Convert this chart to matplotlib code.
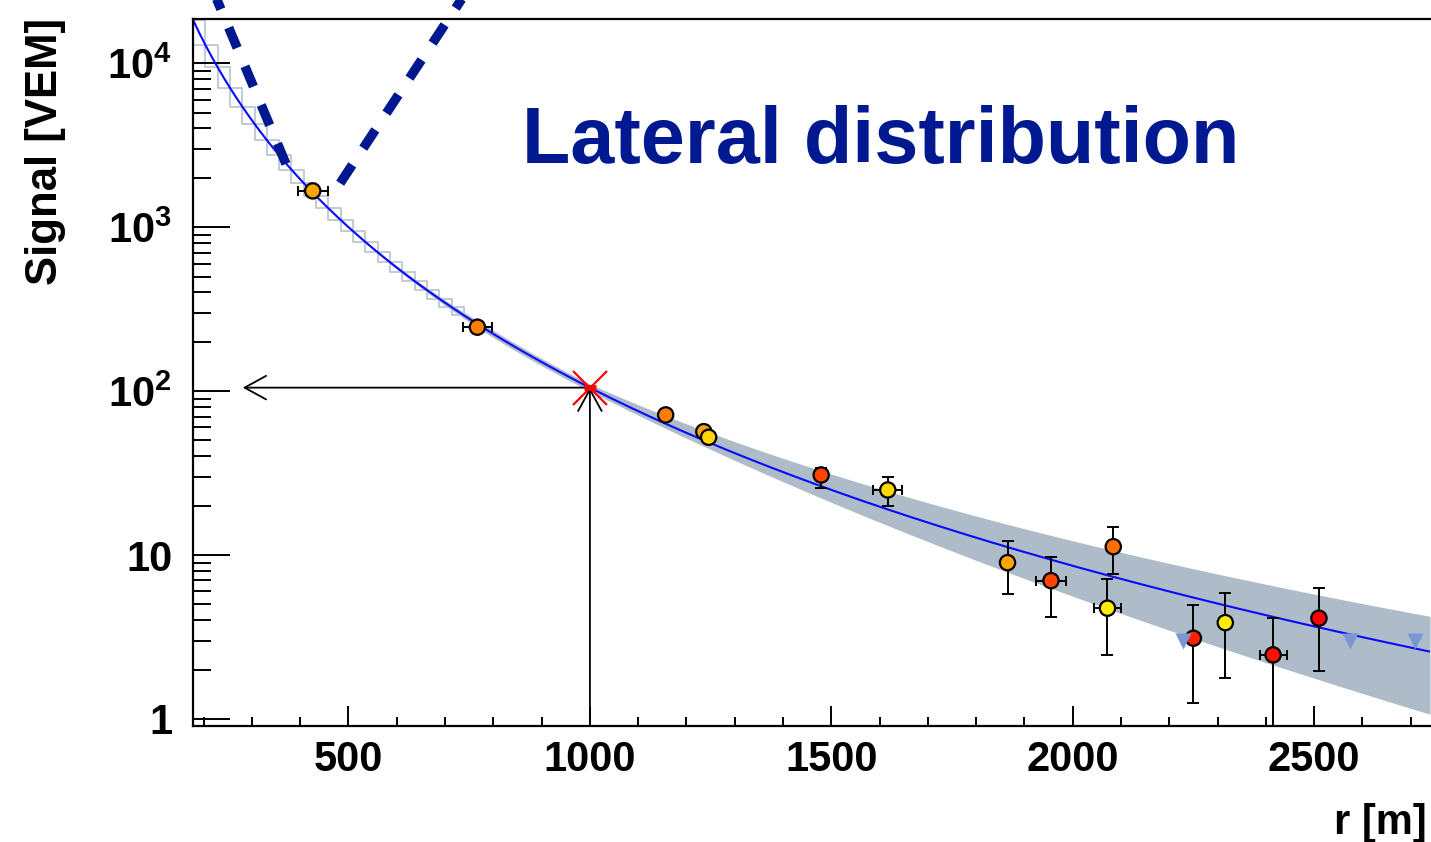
import numpy as np
import matplotlib
matplotlib.use("Agg")
import matplotlib.pyplot as plt
from matplotlib.ticker import FixedLocator, MultipleLocator, NullFormatter

plt.rcParams["font.family"] = ["Liberation Sans", "DejaVu Sans"]
plt.rcParams["font.weight"] = "bold"
plt.rcParams["mathtext.fontset"] = "custom"
plt.rcParams["mathtext.rm"] = "Liberation Sans:bold"
plt.rcParams["mathtext.it"] = "Liberation Sans:bold"
plt.rcParams["mathtext.bf"] = "Liberation Sans:bold"
plt.rcParams["lines.scale_dashes"] = False

# ---- station signals -------------------------------------------------------
r_station = [426, 767, 1157, 1236, 1246, 1479, 1617, 1865, 1955, 2084, 2072,
             2250, 2316, 2415, 2510]
S_station = [1665, 245.5, 71.6, 56.6, 52.3, 30.8, 24.95, 8.99, 6.98, 11.25,
             4.74, 3.11, 3.87, 2.46, 4.12]
S_err_up = [40, 15, 4, 3, 3, 3, 5.1, 3.15, 2.72, 3.5, 2.4, 1.85, 2.03, 1.66, 2.15]
S_err_lo = [40, 15, 4, 3, 3, 5.2, 5.0, 3.2, 2.77, 3.6, 2.3, 1.85, 2.1, 1.66, 2.15]
r_err = [31, 30, 0, 0, 0, 0, 30, 0, 31, 0, 28, 0, 0, 28, 0]
station_colors = ["#ffa500", "#ff8000", "#ff8000", "#ffa500", "#ffd700",
                  "#ff4500", "#ffd700", "#ffa500", "#ff4500", "#ff7000",
                  "#ffee00", "#ff2000", "#ffee00", "#ff1000", "#ff0000"]

# silent stations (upper limits)
r_silent = [2229, 2574, 2708]
S_silent = [3.0, 3.0, 3.0]

# ---- LDF fit ---------------------------------------------------------------
S1000 = 105.0
S1000_err = 2.0
beta = -2.165
r_opt = 1000.0

def ldf(r):
    r = np.asarray(r, dtype=float)
    return S1000 * ((r / r_opt) * ((r + 700.0) / 1700.0)) ** beta

# ---- shower-front sketch (dashed V) ----------------------------------------
v_left_r = [370.5, 210.3]
v_left_S = [2433, 32270]
v_right_r = [482.8, 760.7]
v_right_S = [1855, 32270]

x_min, x_max = 178, 2740
y_min, y_max = 0.906, 18620

fig = plt.figure(figsize=(14.31, 8.42), dpi=100)
ax = fig.add_axes([193 / 1431, 116 / 842, (1430 - 193) / 1431, (726 - 19) / 842])
ax.set_xscale("linear")
ax.set_yscale("log")
ax.set_xlim(x_min, x_max)
ax.set_ylim(y_min, y_max)

# uncertainty band of the fit
r_fine = np.linspace(x_min, x_max, 600)
S_fine = ldf(r_fine)
Lpos = np.clip(np.log10((r_fine / r_opt) * ((r_fine + 700) / 1700)), 0, None)
taper = np.clip((r_fine - 420) / 380, 0, 1)
band_up = 0.022 * taper + 0.26 * Lpos
band_lo = 0.022 * taper + 0.65 * Lpos ** 2
band_color = "#adbcc8"
ax.fill_between(r_fine, S_fine * 10 ** (-band_lo), S_fine * 10 ** band_up,
                color=band_color, lw=0, zorder=1)

# binned version of the fit at small distances
edges = np.arange(178, 760, 25.5)
vals = ldf(edges)
ax.step(edges, vals, where="post", color="#b4c2ce", lw=1.2, zorder=1.5)
ax.step(edges, vals, where="pre", color="#b4c2ce", lw=1.2, zorder=1.5)

ax.plot(r_fine, S_fine, color="#0a0aff", lw=1.5, zorder=2)

# S(1000) arrows
arrow_kw = dict(arrowstyle="->,head_length=15.5,head_width=8.5", lw=1.3,
                color="black", shrinkA=0, shrinkB=0, mutation_scale=1)
ax.annotate("", xy=(r_opt, S1000), xytext=(r_opt, y_min),
            arrowprops=arrow_kw, zorder=3)
ax.annotate("", xy=(281, S1000), xytext=(r_opt, S1000),
            arrowprops=arrow_kw, zorder=3)

# station error bars and markers
r_arr = np.array(r_station, float)
S_arr = np.array(S_station, float)
ax.errorbar(r_arr, S_arr, yerr=[S_err_lo, S_err_up], fmt="none", ecolor="black",
            elinewidth=1.4, capsize=4.6, capthick=1.4, zorder=4)
has_x = np.array(r_err) > 0
ax.errorbar(r_arr[has_x], S_arr[has_x], xerr=np.array(r_err)[has_x], fmt="none",
            ecolor="black", elinewidth=1.4, capsize=3.3, capthick=1.4, zorder=4)
ax.scatter(r_arr, S_arr, s=11.0 ** 2, c=station_colors, edgecolors="black",
           linewidths=1.6, zorder=5)
ax.plot(r_silent, S_silent, ls="none", marker="v", ms=11, color="#7b96d2",
        mec="none", zorder=5)

# S(1000) estimate
ax.errorbar([r_opt], [S1000], yerr=S1000_err, fmt="none", ecolor="red",
            elinewidth=1.4, capsize=4.6, capthick=2.0, zorder=6)
ax.plot([r_opt], [S1000], marker="x", ms=24, mew=1.6, color="red", ls="none",
        zorder=6)

# dashed V sketch
for rr, ss in ((v_left_r, v_left_S), (v_right_r, v_right_S)):
    ax.plot(rr, ss, color="#00188f", lw=6.8, dashes=(15.8, 14.4),
            solid_capstyle="butt", dash_capstyle="butt", clip_on=False, zorder=7)

ax.text(1603, 2455, "Lateral distribution", ha="center", va="baseline",
        fontsize=57, color="#001890", fontweight="bold", zorder=8)

# axes styling
for side in ("left", "bottom", "top"):
    ax.spines[side].set_linewidth(1.6)
ax.spines["right"].set_visible(False)

ax.xaxis.set_major_locator(MultipleLocator(500))
ax.xaxis.set_minor_locator(MultipleLocator(100))
ax.yaxis.set_major_locator(FixedLocator([1, 10, 100, 1000, 10000]))
ax.yaxis.set_minor_locator(FixedLocator(
    [m * 10 ** e for e in range(-1, 5) for m in range(2, 10)]))
ax.yaxis.set_minor_formatter(NullFormatter())
ax.set_yticklabels(["1", "10", r"$10^{2}$", r"$10^{3}$", r"$10^{4}$"])
ax.set_xticklabels([f"{int(v)}" for v in ax.get_xticks()])

ax.tick_params(axis="x", which="major", direction="in", length=14.5, width=1.4,
               labelsize=30, pad=10, top=False)
ax.tick_params(axis="x", which="minor", direction="in", length=6.5, width=1.4,
               top=False)
ax.tick_params(axis="y", which="major", direction="in", length=26.5, width=1.4,
               labelsize=30, pad=15, right=False)
ax.tick_params(axis="y", which="minor", direction="in", length=13, width=1.4,
               right=False)
for lab in ax.get_xticklabels() + ax.get_yticklabels():
    lab.set_fontweight("bold")

fig.text(46 / 1431, 1 - 18 / 842, "Signal [VEM]", rotation=90, ha="center",
         va="top", fontsize=31.5, fontweight="bold")
fig.text(1427 / 1431, (842 - 834) / 842, "r [m]", ha="right", va="baseline",
         fontsize=30, fontweight="bold")

fig.savefig("out.png", dpi=100)
